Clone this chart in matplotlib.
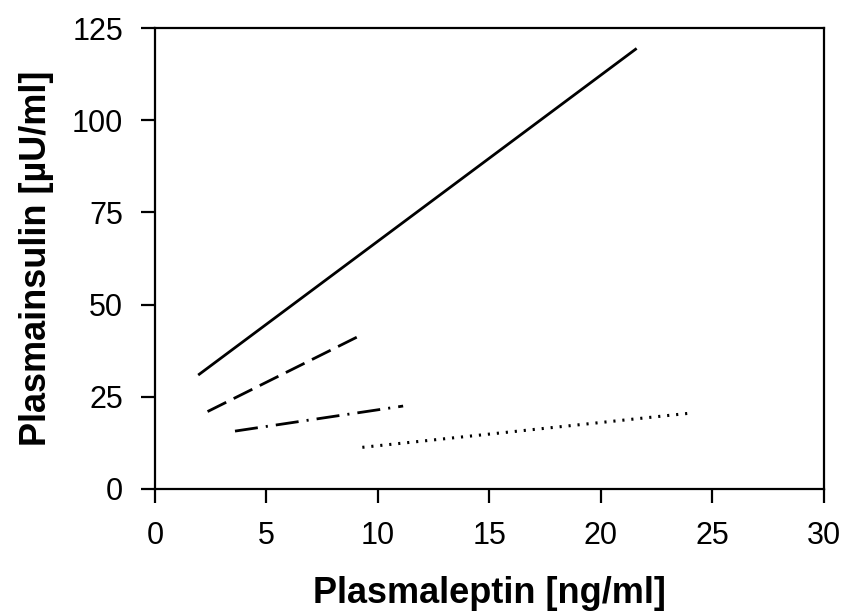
import matplotlib
matplotlib.use("Agg")
import matplotlib.pyplot as plt

plt.rcParams['font.family'] = ['Liberation Sans', 'DejaVu Sans']

# Regression lines: (leptin start, leptin end), (insulin start, insulin end)
solid_x = [1.94, 21.6]
solid_y = [30.9, 119.5]
dashed_x = [2.36, 9.06]
dashed_y = [21.0, 41.2]
dashdot_x = [3.59, 11.13]
dashdot_y = [15.7, 22.5]
dotted_x = [9.3, 23.9]
dotted_y = [11.3, 20.5]

x_ticks = [0, 5, 10, 15, 20, 25, 30]
y_ticks = [0, 25, 50, 75, 100, 125]

fig = plt.figure(figsize=(8.42, 6.12), dpi=100)
ax = fig.add_axes([0.184, 0.201, 0.7946, 0.753])

lw = 2.0
# dash patterns are given in multiples of the line width
ax.plot(solid_x, solid_y, color='black', lw=lw, solid_capstyle='butt')
ax.plot(dashed_x, dashed_y, color='black', lw=lw, dashes=(7.5, 3.0),
        dash_capstyle='butt')
ax.plot(dashdot_x, dashdot_y, color='black', lw=lw,
        dashes=(8.3, 2.9, 0.75, 2.9), dash_capstyle='butt')
ax.plot(dotted_x, dotted_y, color='black', lw=2.2, dashes=(0.7, 2.25),
        dash_capstyle='butt')

ax.set_xlim(0, 30)
ax.set_ylim(0, 125)
ax.set_xticks(x_ticks)
ax.set_yticks(y_ticks)
ax.set_xticklabels([str(v) for v in x_ticks])
ax.set_yticklabels([str(v) for v in y_ticks])

for sp in ax.spines.values():
    sp.set_linewidth(1.6)
    sp.set_color('black')

ax.tick_params(direction='out', length=10, width=1.6, labelsize=22,
               pad=13, colors='black')

ax.set_xlabel('Plasmaleptin [ng/ml]', fontsize=26, fontweight='bold', labelpad=18)
ax.set_ylabel('Plasmainsulin [µU/ml]', fontsize=26, fontweight='bold', labelpad=13)

fig.savefig('out.png', dpi=100)
